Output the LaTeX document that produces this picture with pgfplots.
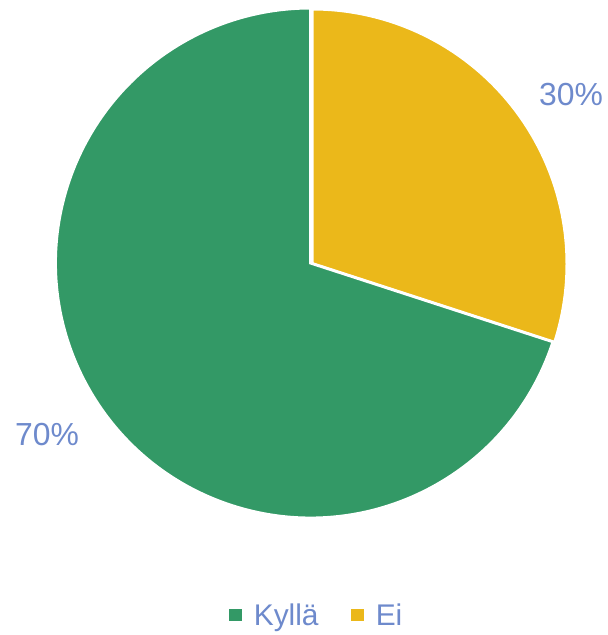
\documentclass[border=0pt]{standalone}
\usepackage{fontspec}
\setmainfont{Liberation Sans}
\usepackage{pgfplots}
\pgfplotsset{compat=1.18}
\definecolor{kylla}{HTML}{339966}
\definecolor{ei}{HTML}{EBB81A}
\definecolor{lbl}{HTML}{6E8ACC}
% data (percent)
\def\ValKylla{70}
\def\ValEi{30}
\begin{document}
\begin{tikzpicture}
\begin{axis}[
  scale only axis, width=608bp, height=635bp,
  xmin=0, xmax=608, ymin=0, ymax=635,
  hide axis, clip=false,
  legend columns=2,
  legend style={at={(axis cs:317,20)}, anchor=center, draw=none, fill=none,
    font=\fontsize{30}{31}\selectfont\color{lbl},
    /tikz/every odd column/.append style={column sep=11bp},
    /tikz/every even column/.append style={column sep=31bp}},
  legend cell align=left,
]
\addlegendimage{only marks, mark=square*, mark size=5.6bp, color=kylla}
\addlegendentry{Kyllä}
\addlegendimage{only marks, mark=square*, mark size=5.6bp, color=ei}
\addlegendentry{Ei}
\coordinate (bl) at (axis cs:0,0);
\coordinate (tr) at (axis cs:608,635);
\pgfmathsetmacro{\aEi}{90-3.6*\ValEi}
\pgfmathsetmacro{\aKy}{\aEi-3.6*\ValKylla}
\fill[ei, draw=white, line width=3bp] (axis cs:312,371) -- ++(90:255bp) arc[start angle=90, end angle=\aEi, radius=255bp] -- cycle;
\fill[kylla, draw=white, line width=3bp] (axis cs:310.5,372) -- ++(\aEi:255bp) arc[start angle=\aEi, end angle=\aKy, radius=255bp] -- cycle;
\node[lbl, font=\fontsize{32}{32}\selectfont] at (axis cs:571,540) {30\%};
\node[lbl, font=\fontsize{32}{32}\selectfont] at (axis cs:47,200) {70\%};
\end{axis}
\pgfresetboundingbox
\path[use as bounding box] (bl) rectangle (tr);
\end{tikzpicture}
\end{document}
